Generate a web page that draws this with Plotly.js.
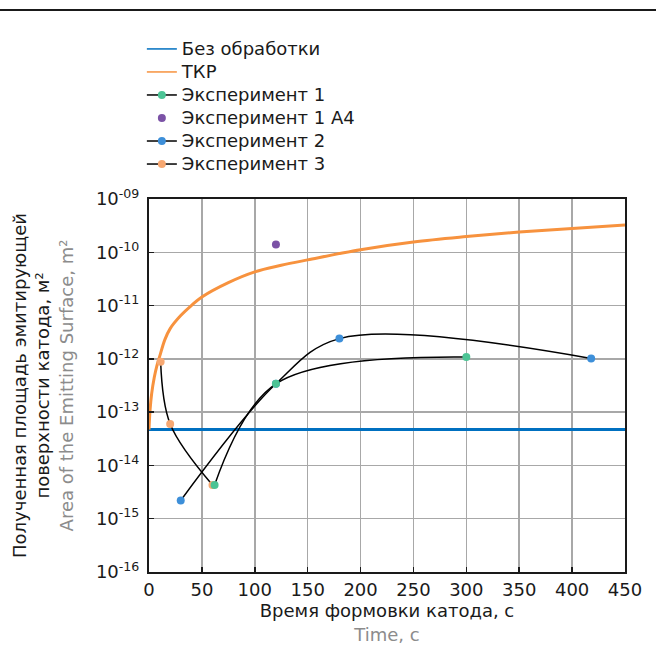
<!DOCTYPE html>
<html>
<head>
<meta charset="utf-8">
<script src="https://cdn.plot.ly/plotly-3.0.1.min.js"></script>
<style>
html,body{margin:0;padding:0;background:#fff;}
#chart{width:656px;height:648px;}
#chart .legendtext{font-size:18px !important;}
#chart .legend .scrollbox{clip-path:none !important;}
</style>
</head>
<body>
<div id="chart"></div>
<script>
// ---- data ----
var baseX = [0, 450];
var baseY = [4.7e-14, 4.7e-14];

var tkpX = [0, 1, 2.5, 5, 7.5, 10, 15, 20, 30, 40, 50, 75, 100, 125, 150, 200, 250, 300, 350, 400, 450];
var tkpY = [4.7e-14, 1.1e-13, 2.2e-13, 4.5e-13, 7.5e-13, 1.1e-12, 2.3e-12, 3.7e-12, 6.5e-12, 1.0e-11, 1.45e-11, 2.7e-11, 4.3e-11, 5.7e-11, 7.2e-11, 1.12e-10, 1.56e-10, 1.97e-10, 2.4e-10, 2.8e-10, 3.25e-10];

var exp1X = [62, 120, 300];
var exp1Y = [4.3e-15, 3.4e-13, 1.08e-12];

var exp1a4X = [120];
var exp1a4Y = [1.4e-10];

var exp2X = [30, 120, 180, 418];
var exp2Y = [2.2e-15, 3.4e-13, 2.4e-12, 1.02e-12];

var exp3X = [11, 20, 60];
var exp3Y = [8.8e-13, 6.0e-14, 4.3e-15];

var names = ['Без обработки', 'ТКР', 'Эксперимент 1', 'Эксперимент 1 А4', 'Эксперимент 2', 'Эксперимент 3'];

var yTickVals = [1e-16, 1e-15, 1e-14, 1e-13, 1e-12, 1e-11, 1e-10, 1e-9];
var yTickText = ['10<sup>-16</sup>', '10<sup>-15</sup>', '10<sup>-14</sup>', '10<sup>-13</sup>', '10<sup>-12</sup>', '10<sup>-11</sup>', '10<sup>-10</sup>', '10<sup>-09</sup>'];

// ---- styles ----
var FONT = 'DejaVu Sans, sans-serif';
var TXT = '#1a1a1a';
var C = {base: '#0070c0', tkp: '#f7923e', g: '#4cc495', p: '#7b52a6', b: '#3d8fd9', o: '#f7a872'};

function legendOnly(name, mode, lineColor, markerColor) {
  var t = {x: [null], y: [null], name: name, mode: mode, showlegend: true, hoverinfo: 'skip'};
  if (mode.indexOf('lines') >= 0) t.line = {color: lineColor, width: 1.5};
  if (markerColor) t.marker = {color: markerColor, size: 8};
  return t;
}

var traces = [
  legendOnly(names[0], 'lines', C.base),
  legendOnly(names[1], 'lines', C.tkp),
  legendOnly(names[2], 'lines+markers', '#000', C.g),
  legendOnly(names[3], 'markers', null, C.p),
  legendOnly(names[4], 'lines+markers', '#000', C.b),
  legendOnly(names[5], 'lines+markers', '#000', C.o),
  {x: baseX, y: baseY, name: names[0], showlegend: false, mode: 'lines', line: {color: C.base, width: 3}},
  {x: tkpX, y: tkpY, name: names[1], showlegend: false, mode: 'lines', line: {color: C.tkp, width: 3, shape: 'spline', smoothing: 1}},
  {x: exp3X, y: exp3Y, name: names[5], showlegend: false, mode: 'lines+markers', line: {color: '#000', width: 1.5, shape: 'spline', smoothing: 1},
   marker: {color: C.o, size: 8}},
  {x: exp2X, y: exp2Y, name: names[4], showlegend: false, mode: 'lines+markers', line: {color: '#000', width: 1.5, shape: 'spline', smoothing: 1},
   marker: {color: C.b, size: 8}},
  {x: exp1X, y: exp1Y, name: names[2], showlegend: false, mode: 'lines+markers', line: {color: '#000', width: 1.5, shape: 'spline', smoothing: 1},
   marker: {color: C.g, size: 8}},
  {x: exp1a4X, y: exp1a4Y, name: names[3], showlegend: false, mode: 'markers', marker: {color: C.p, size: 8}}
];

var layout = {
  width: 656, height: 648,
  margin: {l: 149, r: 31, t: 199, b: 76, pad: 0},
  paper_bgcolor: '#ffffff', plot_bgcolor: '#ffffff',
  font: {family: FONT, size: 18, color: TXT},
  showlegend: true,
  legend: {x: -0.015, y: 1.4466, xanchor: 'left', yanchor: 'top', bgcolor: 'rgba(0,0,0,0)',
           font: {family: FONT, size: 15.4, color: TXT}, tracegroupgap: 0},
  xaxis: {
    range: [0, 450], dtick: 50, tick0: 0,
    showgrid: true, gridcolor: '#a8a8a8', gridwidth: 1.5,
    showline: true, linecolor: TXT, linewidth: 2, mirror: true,
    ticks: 'inside', ticklen: 5, tickwidth: 1.5, tickcolor: TXT,
    zeroline: false,
    tickfont: {family: FONT, size: 18, color: TXT},
    title: {text: 'Время формовки катода, с<br><span style="color:#8c8c8c">Time, c</span>',
            font: {family: FONT, size: 18, color: TXT}, standoff: 6}
  },
  yaxis: {
    type: 'log', range: [-16, -9],
    tickmode: 'array', tickvals: yTickVals, ticktext: yTickText,
    showgrid: true, gridcolor: '#a8a8a8', gridwidth: 1.5,
    showline: true, linecolor: TXT, linewidth: 2, mirror: true,
    ticks: 'inside', ticklen: 5, tickwidth: 1.5, tickcolor: TXT,
    ticklabelstandoff: 4,
    zeroline: false,
    tickfont: {family: FONT, size: 18, color: TXT},
    title: {text: 'Полученная площадь эмитирующей<br>поверхности катода, м²<br><span style="color:#8c8c8c">Area of the Emitting Surface, m²</span>',
            font: {family: FONT, size: 18, color: TXT}, standoff: 18}
  },
  shapes: [
    {type: 'line', xref: 'paper', yref: 'paper', x0: -0.32, x1: 1.08, y0: 1.507, y1: 1.507,
     line: {color: TXT, width: 2}}
  ]
};

Plotly.newPlot('chart', traces, layout, {displayModeBar: false, staticPlot: true});
</script>
</body>
</html>
